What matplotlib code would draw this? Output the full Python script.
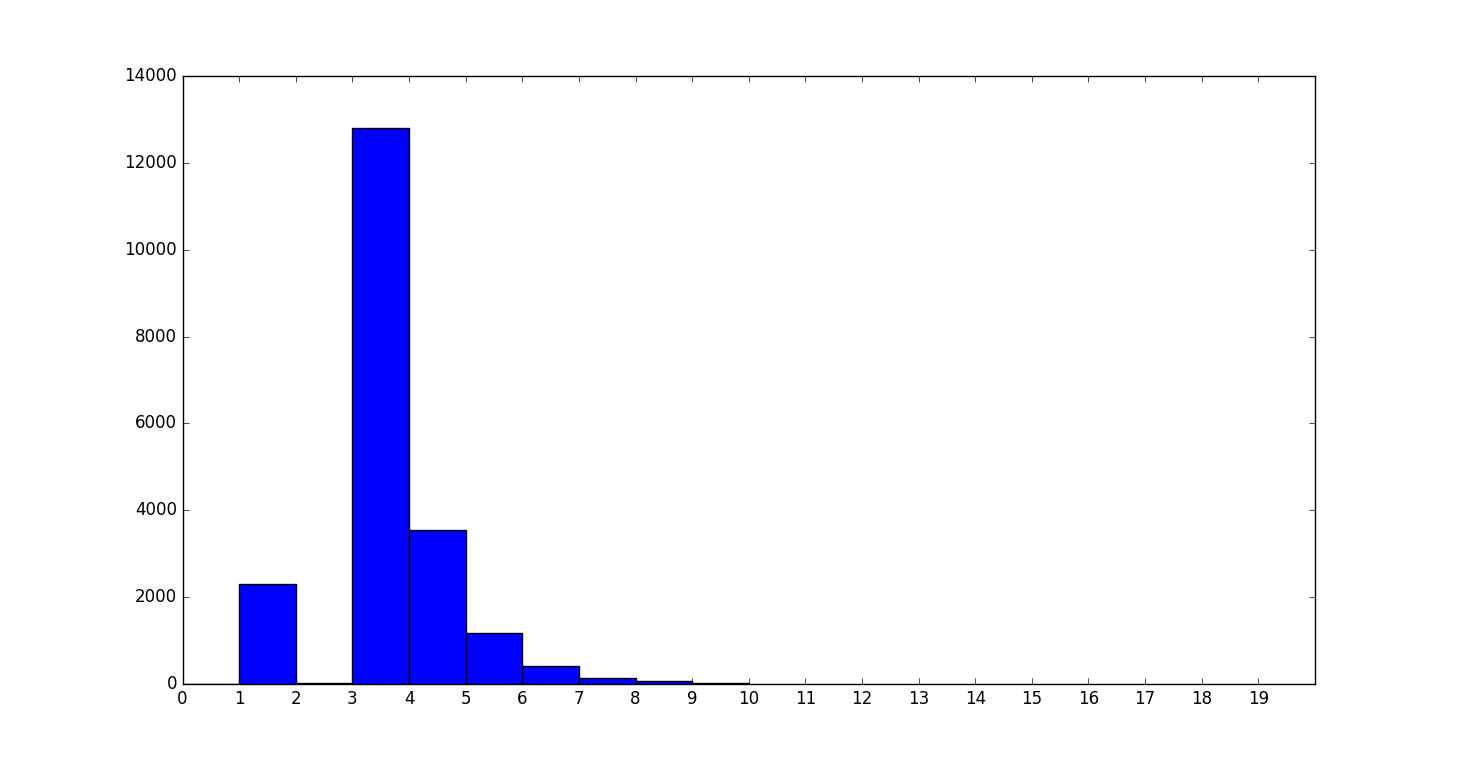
import matplotlib
matplotlib.use("Agg")
import matplotlib.pyplot as plt

# histogram counts per unit bin
bin_left = [0, 1, 2, 3, 4, 5, 6, 7, 8, 9]
counts = [0, 2300, 25, 12800, 3545, 1175, 405, 135, 65, 18]
xtick_vals = list(range(0, 20))

plt.style.use("classic")
fig = plt.figure(figsize=(14.61, 7.6), dpi=100)
fig.patch.set_facecolor("white")
ax = fig.add_subplot(111)

# one bar per bin, left-aligned like plt.hist
ax.bar(bin_left, counts, width=1.0, align="edge", color="b", edgecolor="k")

ax.set_xlim(0, 20)
ax.set_ylim(0, 14000)
ax.set_xticks(xtick_vals)

fig.savefig("out.png", dpi=100, facecolor="white")
